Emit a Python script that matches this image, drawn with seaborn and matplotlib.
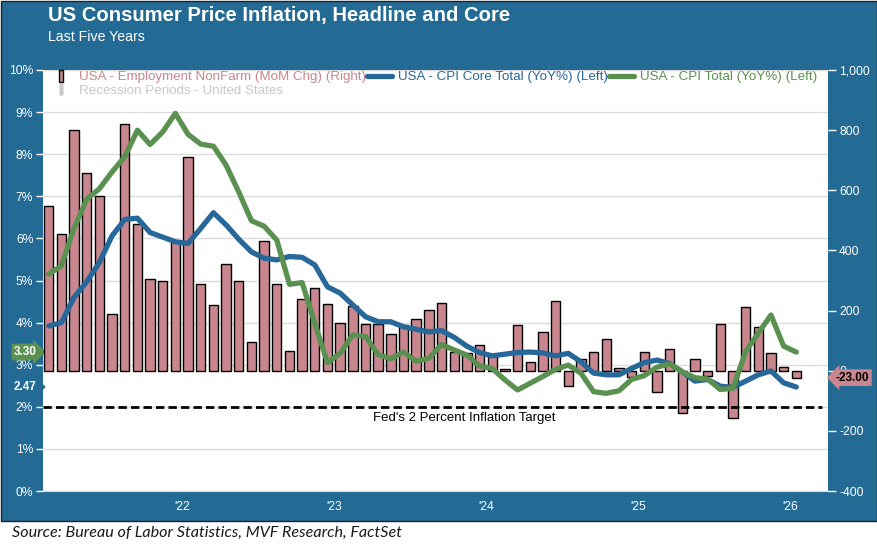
import seaborn as sns
import matplotlib.pyplot as plt
import matplotlib.ticker as mticker
from matplotlib.lines import Line2D
from matplotlib.patches import Rectangle
from matplotlib.transforms import blended_transform_factory
import pandas as pd
import numpy as np

# monthly data, Aug 2021 - Jul 2026
months = pd.date_range("2021-08-01", periods=60, freq="MS")

# USA - Employment NonFarm, MoM change (thousands)
nonfarm = [549, 455, 799, 656, 582, 189, 819, 489, 306, 299, 432, 711,
           289, 219, 356, 299, 96, 432, 289, 66, 239, 276, 222, 159,
           214, 156, 156, 122, 152, 172, 202, 226, 61, 60, 86, 50,
           6, 153, 30, 128, 231, -50, 39, 63, 106, 9, -20, 61,
           -70, 72, -141, 39, -17, 156, -156, 212, 144, 59, 14, -23]

# USA - CPI Total YoY %
cpi_total = [5.15, 5.35, 6.24, 6.93, 7.18, 7.58, 7.94, 8.57, 8.23, 8.53, 8.97, 8.47,
             8.24, 8.19, 7.74, 7.10, 6.42, 6.29, 5.96, 4.91, 4.95, 3.98, 3.05, 3.27,
             3.71, 3.67, 3.24, 3.14, 3.30, 3.08, 3.15, 3.48, 3.35, 3.23, 2.97, 2.91,
             2.64, 2.40, 2.56, 2.72, 2.89, 2.99, 2.80, 2.36, 2.32, 2.38, 2.65, 2.74,
             2.94, 3.02, 2.83, 2.69, 2.66, 2.41, 2.44, 3.31, 3.75, 4.18, 3.44, 3.30]

# USA - CPI Core Total YoY %
cpi_core = [3.92, 4.00, 4.60, 4.97, 5.43, 6.06, 6.45, 6.48, 6.14, 6.03, 5.92, 5.88,
            6.24, 6.61, 6.32, 5.98, 5.68, 5.53, 5.49, 5.57, 5.55, 5.37, 4.85, 4.70,
            4.42, 4.14, 4.02, 4.02, 3.90, 3.84, 3.78, 3.81, 3.65, 3.44, 3.29, 3.21,
            3.25, 3.29, 3.30, 3.28, 3.21, 3.27, 3.07, 2.80, 2.76, 2.76, 2.91, 3.05,
            3.11, 3.03, 2.83, 2.61, 2.65, 2.49, 2.46, 2.61, 2.76, 2.85, 2.57, 2.47]

year_labels = ["'22", "'23", "'24", "'25", "'26"]
fed_target = 2.0

df = pd.DataFrame({"pos": np.arange(len(months)), "nonfarm": nonfarm,
                   "total": cpi_total, "core": cpi_core})

BG = "#236a94"
PINK = "#c9868f"
BLUE = "#27689a"
GREEN = "#5a9150"

sns.set_style("white")
plt.rcParams["font.family"] = ["Liberation Sans", "DejaVu Sans"]

fig = plt.figure(figsize=(8.78, 5.48), dpi=100)
fig.patch.set_facecolor("white")
fig.add_artist(Rectangle((0.001, 1 - 521 / 548), 0.998, 521 / 548 - 0.002,
                         transform=fig.transFigure, facecolor=BG,
                         edgecolor="#222222", lw=1, zorder=-1))

# base axes (left %), bars on a twin, lines on another twin on top
ax = fig.add_axes([43 / 878, 1 - 491 / 548, 785 / 878, 421 / 548])
axr = ax.twinx()
axl = ax.twinx()
ax.set_zorder(0)
axr.set_zorder(1)
axl.set_zorder(2)
ax.set_facecolor("white")
axr.patch.set_visible(False)
axl.patch.set_visible(False)

sns.barplot(data=df, x="pos", y="nonfarm", native_scale=True, ax=axr,
            color=PINK, saturation=1, edgecolor="black", linewidth=1, width=0.74)
sns.lineplot(data=df, x="pos", y="core", ax=axl, color=BLUE, linewidth=3.8, legend=False)
sns.lineplot(data=df, x="pos", y="total", ax=axl, color=GREEN, linewidth=3.8, legend=False)

axl.axhline(fed_target, color="black", lw=2, dashes=(3, 1.5), xmax=0.992)
axl.annotate("Fed's 2 Percent Inflation Target", xy=(0.536, fed_target),
             xycoords=blended_transform_factory(axl.transAxes, axl.transData),
             xytext=(0, -3.5), textcoords="offset points", ha="center", va="top",
             fontsize=9.5, color="black")

for a in (ax, axl):
    a.set_ylim(0, 10)
axr.set_ylim(-400, 1000)
ax.set_xlim(-0.45, 61.5)

# grid + axes styling
ax.set_yticks(range(0, 11))
ax.yaxis.set_major_formatter(mticker.FuncFormatter(lambda v, p: f"{v:.0f}%"))
ax.yaxis.grid(True, color="#dcdcdc", lw=1)
ax.tick_params(axis="y", colors="white", labelsize=8.7, length=5, width=1, pad=2)
axl.set_yticks([])
axr.set_yticks(range(-400, 1001, 200))
axr.yaxis.set_major_formatter(mticker.FuncFormatter(lambda v, p: f"{v:,.0f}"))
axr.tick_params(axis="y", colors="white", labelsize=8.7, length=6, width=1, pad=2)

jan_idx = [i for i, m in enumerate(months) if m.month == 1]
jul_idx = [i for i, m in enumerate(months) if m.month == 7]
ax.set_xticks([i - 0.5 for i in jan_idx])
ax.set_xticklabels([])
ax.set_xticks([i - 0.5 for i in jul_idx], minor=True)
ax.set_xticklabels(year_labels, minor=True)
ax.tick_params(axis="x", which="major", colors="white", length=5, width=1)
ax.tick_params(axis="x", which="minor", colors="white", length=0, labelsize=8.7, pad=7)

for a in (ax, axr, axl):
    a.set_xlabel("")
    a.set_ylabel("")
    for s in a.spines.values():
        s.set_visible(False)
ax.spines["bottom"].set_visible(True)
ax.spines["bottom"].set_color("#dcdcdc")

# last-value tags
lt = blended_transform_factory(ax.transAxes, ax.transData)
ax.text(-0.008, cpi_total[-1], f"{cpi_total[-1]:.2f}", transform=lt, ha="right", va="center",
        fontsize=8.5, fontweight="bold", color="white",
        bbox=dict(boxstyle="rarrow,pad=0.2", fc=GREEN, ec="none"))
ax.text(-0.008, cpi_core[-1], f"{cpi_core[-1]:.2f}", transform=lt, ha="right", va="center",
        fontsize=8.5, fontweight="bold", color="white",
        bbox=dict(boxstyle="rarrow,pad=0.2", fc=BG, ec="none"))
rt = blended_transform_factory(axr.transAxes, axr.transData)
axr.text(1.01, nonfarm[-1], f"{nonfarm[-1]:.2f}", transform=rt, ha="left", va="center",
         fontsize=8.5, fontweight="bold", color="black", zorder=5,
         bbox=dict(boxstyle="larrow,pad=0.2", fc=PINK, ec="none"))

# legend
bar_mark = [(-0.3, -1), (0.3, -1), (0.3, 1), (-0.3, 1), (-0.3, -1)]
handles = [
    Line2D([], [], ls="none", marker=bar_mark, markersize=9, markerfacecolor=PINK,
           markeredgecolor="black", markeredgewidth=1),
    Line2D([], [], ls="none", marker=bar_mark, markersize=9, markerfacecolor="#c8c8c8",
           markeredgecolor="none"),
    Line2D([], [], color=BLUE, lw=3.8),
    Line2D([], [], color=GREEN, lw=3.8),
]
labels = ["USA - Employment NonFarm (MoM Chg) (Right)",
          "Recession Periods - United States",
          "USA - CPI Core Total (YoY%) (Left)",
          "USA - CPI Total (YoY%) (Left)"]
leg = fig.legend(handles, labels, loc="upper left", bbox_to_anchor=(48 / 878, 1 - 71 / 548),
                 ncol=3, frameon=False, fontsize=9.6, handlelength=1.9, handletextpad=0.4,
                 columnspacing=0.1, labelspacing=0.1, borderpad=0, borderaxespad=0)
for txt, c in zip(leg.get_texts(), [PINK, "#c8c8c8", BLUE, GREEN]):
    txt.set_color(c)

# header and source
fig.text(48 / 878, 1 - 15 / 548, "US Consumer Price Inflation, Headline and Core",
         fontsize=14.6, fontweight="bold", color="white", va="center")
fig.text(48 / 878, 1 - 37 / 548, "Last Five Years", fontsize=10.2, color="white", va="center")
fig.text(12 / 878, 1 - 533 / 548, "Source: Bureau of Labor Statistics, MVF Research, FactSet",
         fontsize=11.6, style="italic", family=["Lato", "DejaVu Sans"], color="#1a1a1a",
         va="center")

fig.savefig("out.png", dpi=100)
